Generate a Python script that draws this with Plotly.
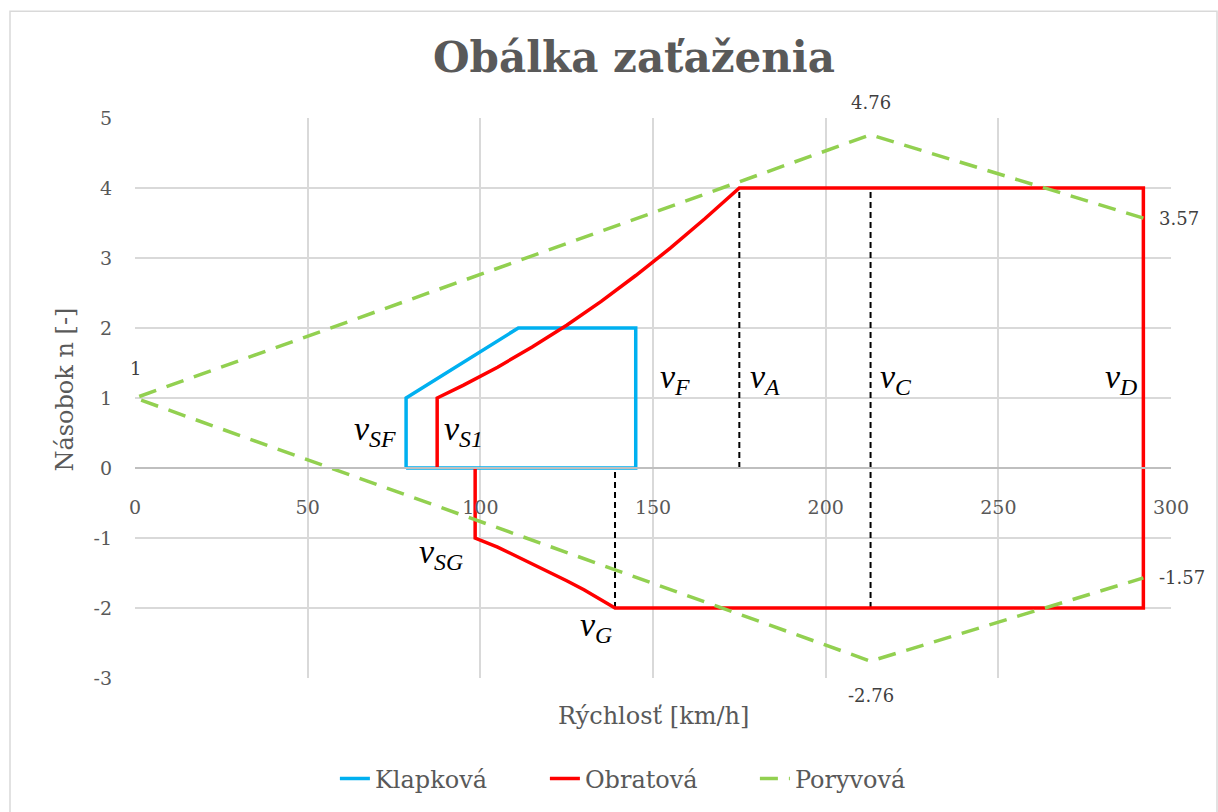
import plotly.graph_objects as go

# --- data -----------------------------------------------------------------
# Klapková (flaps-down envelope)
flap_v = [78.5, 78.5, 111, 145, 145, 78.5]
flap_n = [0, 1, 2, 2, 0, 0]

# Obratová (manoeuvre envelope), traced from the negative stall point around
manv_v = [98.5, 98.5, 105, 110, 115, 120, 125, 130, 139, 292, 292, 175, 165, 155, 145, 135, 125, 115, 105, 95, 87.5, 87.5]
manv_n = [0, -1, -1.13, -1.25, -1.36, -1.48, -1.61, -1.74, -2, -2, 4, 4, 3.56, 3.14, 2.75, 2.38, 2.04, 1.73, 1.44, 1.18, 1, 0]

# Poryvová (gust lines)
gust_v = [292, 213, 0, 213, 292]
gust_n = [3.57, 4.76, 1, -2.76, -1.57]

# characteristic speeds (dashed verticals)
vert_v = [175, 213, 139]
vert_lo = [0, -2, -2]
vert_hi = [4, 4, 0]

x_ticks = [0, 50, 100, 150, 200, 250, 300]
y_ticks = [-3, -2, -1, 0, 1, 2, 3, 4, 5]
y_tick_text = ["-3", "-2", "-1", "0", "1", "2", "3", "4", "5"]

speed_labels = ["SF", "S1", "F", "A", "C", "D", "SG", "G"]
speed_label_x = [69.5, 95, 156.5, 182.5, 220.5, 285.5, 88.5, 133.5]
speed_label_y = [0.53, 0.53, 1.27, 1.27, 1.27, 1.27, -1.23, -2.27]

SERIF = "DejaVu Serif"
MATH = "Liberation Serif"
GRID = "#d9d9d9"
TXT = "#595959"

fig = go.Figure()

for xv, lo, hi in zip(vert_v, vert_lo, vert_hi):
    fig.add_trace(go.Scatter(
        x=[xv, xv], y=[lo, hi], mode="lines", showlegend=False, hoverinfo="skip",
        line=dict(color="black", width=2, dash="6px,4px")))

fig.add_trace(go.Scatter(x=flap_v, y=flap_n, mode="lines", name="Klapková", legendrank=1,
                         line=dict(color="#00b0f0", width=3.5)))
fig.add_trace(go.Scatter(x=manv_v, y=manv_n, mode="lines", name="Obratová", legendrank=2,
                         line=dict(color="#ff0000", width=3.5)))
fig.add_trace(go.Scatter(x=gust_v, y=gust_n, mode="lines", name="Poryvová", legendrank=3,
                         line=dict(color="#92d050", width=3.5, dash="18px,11px")))

annotations = []
# gust-line value labels: (xshift, yshift, xanchor)
label_place = [(14, 0, "left"), (0, 32, "center"), (0, 30, "center"), (0, -34, "center"), (14, 0, "left")]
for v, n, (dx, dy, anc) in zip(gust_v, gust_n, label_place):
    annotations.append(dict(
        x=v, y=n, xref="x", yref="y", text=f"{n:g}".replace("\u2212", "-"), showarrow=False,
        xshift=dx, yshift=dy, xanchor=anc,
        font=dict(family=SERIF, size=18, color="#404040")))

for name, lx, ly in zip(speed_labels, speed_label_x, speed_label_y):
    annotations.append(dict(
        x=lx, y=ly, xref="x", yref="y", showarrow=False,
        text=f"<i>v</i><sub><i>{name}</i></sub>",
        font=dict(family=MATH, size=34, color="black")))

# axis titles
annotations.append(dict(x=0.5, y=-0.04, xref="paper", yref="paper", yanchor="top",
                        text="Rýchlosť [km/h]", showarrow=False,
                        font=dict(family=SERIF, size=24, color=TXT)))
annotations.append(dict(x=(65 - 135) / 1036, y=0.515, xref="paper", yref="paper",
                        xanchor="center", yanchor="middle", textangle=-90,
                        text="Násobok n [-]", showarrow=False,
                        font=dict(family=SERIF, size=24, color=TXT)))

fig.update_layout(
    width=1218, height=812,
    margin=dict(l=135, r=47, t=118, b=133),
    paper_bgcolor="white", plot_bgcolor="white",
    title=dict(text="<b>Obálka zaťaženia</b>", x=634 / 1218, xref="container", xanchor="center",
               y=0.93, yanchor="middle",
               font=dict(family=SERIF, size=42, color=TXT)),
    xaxis=dict(range=[0, 300], tickvals=x_ticks, showgrid=True, gridcolor=GRID, gridwidth=1.5,
               zeroline=False, anchor="free", position=0.375, showline=True,
               linecolor="#bfbfbf", linewidth=1.5, ticks="", ticklabelstandoff=22,
               tickfont=dict(family=SERIF, size=19, color=TXT)),
    yaxis=dict(range=[-3, 5], tickvals=y_ticks, ticktext=y_tick_text, showgrid=True,
               gridcolor=GRID, gridwidth=1.5, zeroline=False, ticks="", ticklabelstandoff=22,
               tickfont=dict(family=SERIF, size=19, color=TXT)),
    legend=dict(orientation="h", x=0.497, xanchor="center", y=-0.178, yanchor="middle",
                font=dict(family=SERIF, size=24, color=TXT),
                entrywidth=165, entrywidthmode="pixels", traceorder="normal"),
    annotations=annotations,
    shapes=[dict(type="rect", xref="paper", yref="paper",
                 x0=(10 - 135) / 1036, x1=(1217 - 135) / 1036,
                 y0=(679 - 830) / 561, y1=(679 - 11) / 561,
                 line=dict(color=GRID, width=1.5), layer="below")],
)

fig.write_html("out.html")
